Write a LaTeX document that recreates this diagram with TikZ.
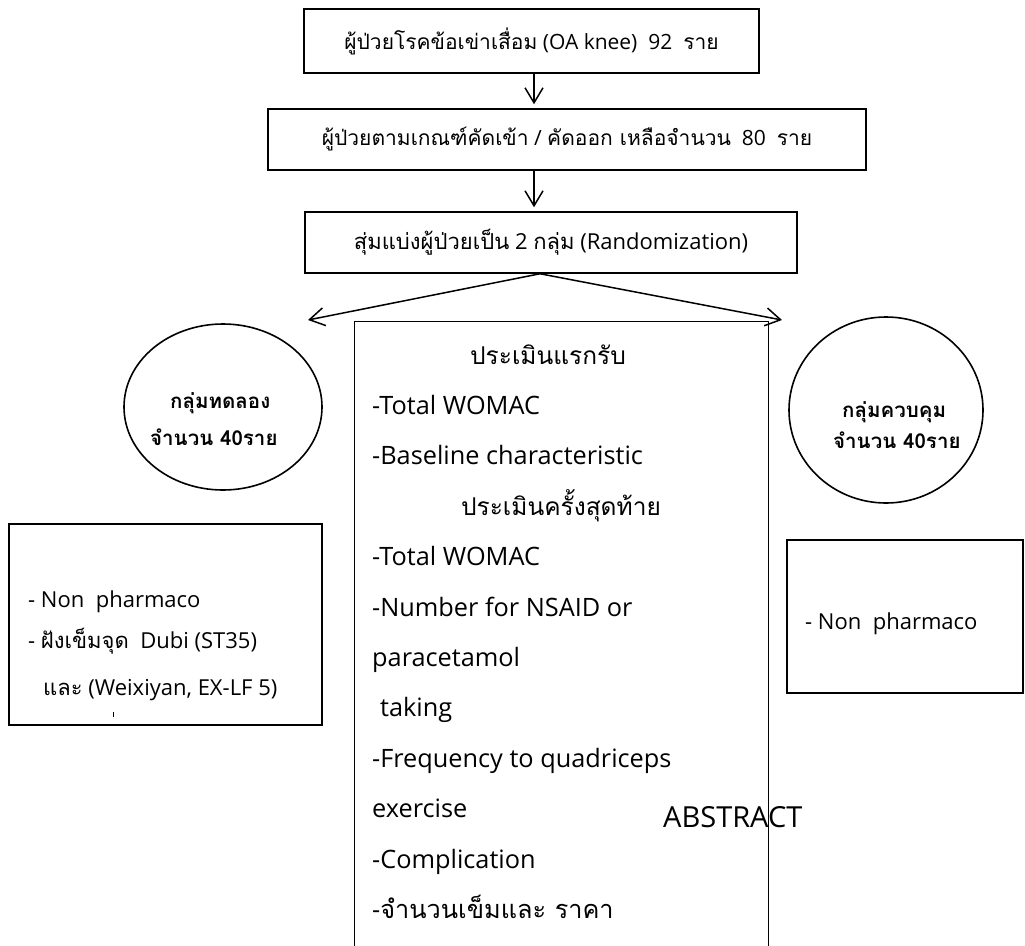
\documentclass[tikz,border=0pt]{standalone}
\usepackage{fontspec}
\setmainfont{Open Sans}
\newfontfamily\thf{Loma}[Script=Thai]
\usetikzlibrary{arrows.meta,shapes.geometric}
\begin{document}
\begin{tikzpicture}[x=1pt,y=-1pt,
  box/.style={draw, line width=1.5pt, inner sep=0pt},
  oval/.style={draw, ellipse, line width=1.6pt, inner sep=0pt},
  arr/.style={line width=1.5pt, -{Straight Barb[length=15pt,width=18pt]}},
  ttop/.style={font=\fontsize{21}{25}\selectfont},
  ctxt/.style={anchor=base west, inner sep=0pt, font=\fontsize{25.3}{30}\selectfont},
  chead/.style={anchor=base, inner sep=0pt, font=\fontsize{24.5}{29}\selectfont},
  stxt/.style={anchor=base west, inner sep=0pt, font=\fontsize{22}{26}\selectfont},
  otxt/.style={anchor=base west, inner sep=0pt, font=\thf\bfseries\fontsize{20.5}{24}\selectfont}
]
\useasboundingbox (0,0) rectangle (1025,945);
\fill[white] (0,0) rectangle (1025,945);

% top boxes
\node[box, ttop, minimum width=455pt, minimum height=64pt] (b1) at (531.5,41) {{\thf ผู้ป่วยโรคข้อเข่าเสื่อม} (OA knee)~ 92~ {\thf ราย}};
\node[box, ttop, minimum width=598pt, minimum height=61pt] (b2) at (567,139.5) {{\thf ผู้ป่วยตามเกณฑ์คัดเข้า} / {\thf คัดออก เหลือจำนวน}~ 80~ {\thf ราย}};
\node[box, ttop, font=\fontsize{22}{26}\selectfont, minimum width=492pt, minimum height=61pt] (b3) at (551,242.5) {{\thf สุ่มแบ่งผู้ป่วยเป็น} 2 {\thf กลุ่ม} (Randomization)};

\coordinate (ax) at (534,0);
\coordinate (sx) at (540,0);
\coordinate (lt) at (308,320);
\coordinate (rt) at (782,320);

\draw[arr, shorten >=4pt] (b1.south -| ax) -- (b2.north -| ax);
\draw[arr, shorten >=4pt] (b2.south -| ax) -- (b3.north -| ax);
\draw[arr] (b3.south -| sx) -- (lt);
\draw[arr] (b3.south -| sx) -- (rt);

% centre box (open at the bottom of the page)
\begin{scope}
\clip (0,0) rectangle (1025,945);
\node[draw, line width=1.2pt, inner sep=0pt, anchor=north west, minimum width=414pt, minimum height=660pt] (cb) at (354,321) {};
\end{scope}

\node[chead] (c1) at (548,364) {\thf ประเมินแรกรับ};
\node[ctxt] (c2) at (372,414.4) {-Total WOMAC};
\node[ctxt] (c3) at (372,464.8) {-Baseline characteristic};
\node[chead] (c4) at (561,515.2) {\thf ประเมินครั้งสุดท้าย};
\node[ctxt] (c5) at (372,565.6) {-Total WOMAC};
\node[ctxt] (c6) at (372,616) {-Number for NSAID or};
\node[ctxt] (c7) at (372,666.4) {paracetamol};
\node[ctxt] (c8) at (380,716.8) {taking};
\node[ctxt] (c9) at (372,767.2) {-Frequency to quadriceps};
\node[ctxt] (c10) at (372,817.6) {exercise};
\node[ctxt] (c11) at (372,868) {-Complication};
\node[ctxt] (c12) at (372,918.4) {-{\thf จำนวนเข็มและ ราคา}};

\node[anchor=base west, inner sep=0pt, font=\fontsize{29}{34}\selectfont] (abs) at (663,827) {ABSTRACT};

% circles
\node[oval, minimum width=198pt, minimum height=166pt] (lc) at (223,407) {};
\node[otxt] (lc1) at (170,408) {กลุ่มทดลอง};
\node[otxt] (lc2) at (150,445) {จำนวน 40ราย};
\node[oval, minimum width=194pt, minimum height=186pt] (rc) at (886,410) {};
\node[otxt] (rc1) at (842,417) {กลุ่มควบคุม};
\node[otxt] (rc2) at (833,448) {จำนวน 40ราย};

% side boxes
\node[box, minimum width=313pt, minimum height=201pt] (lb) at (165.5,624.5) {};
\node[stxt] (l1) at (28,607) {- Non~ pharmaco};
\node[stxt] (l2) at (28,648) {- {\thf ฝังเข็มจุด}~ Dubi (ST35)};
\node[stxt] (l3) at (43,695) {{\thf และ} (Weixiyan, EX-LF 5)};
\draw[line width=0.8pt] (113,712) -- (113,717);

\node[box, minimum width=236pt, minimum height=153pt] (rb) at (905,616.5) {};
\node[stxt] (r1) at (805,629) {- Non~ pharmaco};
\end{tikzpicture}
\end{document}
